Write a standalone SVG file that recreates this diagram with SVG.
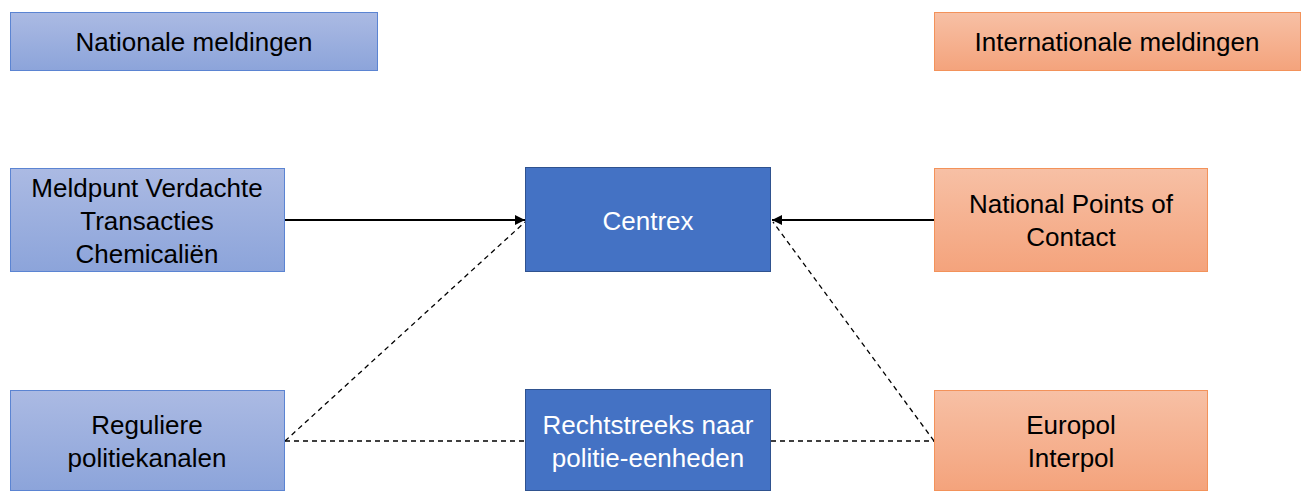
<svg xmlns="http://www.w3.org/2000/svg" width="1307" height="491" viewBox="0 0 1307 491">
<defs>
<linearGradient id="gBlue" x1="0" y1="0" x2="0" y2="1">
<stop offset="0" stop-color="#abbae3"/>
<stop offset="1" stop-color="#8ca4da"/>
</linearGradient>
<linearGradient id="gOrange" x1="0" y1="0" x2="0" y2="1">
<stop offset="0" stop-color="#f7c0a5"/>
<stop offset="1" stop-color="#f4a37c"/>
</linearGradient>
<marker id="arr" viewBox="0 0 10 10" refX="10" refY="5" markerWidth="10" markerHeight="10" markerUnits="userSpaceOnUse" orient="auto">
<path d="M0,0 L10,5 L0,10 z" fill="#000"/>
</marker>
<style>
.lb{fill:url(#gBlue);stroke:#5b84d2;stroke-width:1}
.or{fill:url(#gOrange);stroke:#f3925a;stroke-width:1}
.db{fill:#4472c4;stroke:#2f528f;stroke-width:1}
.t{font-family:"Liberation Sans",Arial,sans-serif;font-size:26px;text-anchor:middle;fill:#000}
.tw{fill:#fff}
.solid{stroke:#000;stroke-width:2;fill:none}
.dash{stroke:#000;stroke-width:1.3;fill:none;stroke-dasharray:5,4}
</style>
</defs>
<g id="connectors">
<line class="solid" x1="285" y1="220" x2="525" y2="220" marker-end="url(#arr)"/>
<line class="solid" x1="934" y1="220" x2="772" y2="220" marker-end="url(#arr)"/>
<line class="dash" x1="285" y1="441" x2="525" y2="222"/>
<line class="dash" x1="285" y1="441" x2="525" y2="441"/>
<line class="dash" x1="934" y1="441" x2="773" y2="222"/>
<line class="dash" x1="771" y1="441" x2="934" y2="441"/>
</g>
<g id="nationale">
<rect class="lb" x="10.5" y="12.5" width="367" height="58"/>
<text class="t" x="194" y="51">Nationale meldingen</text>
</g>
<g id="internationale">
<rect class="or" x="934.5" y="12.5" width="366" height="58"/>
<text class="t" x="1117" y="51">Internationale meldingen</text>
</g>
<g id="meldpunt">
<rect class="lb" x="10.5" y="168.5" width="274" height="103"/>
<text class="t" x="147" y="197">Meldpunt Verdachte</text>
<text class="t" x="147" y="230">Transacties</text>
<text class="t" x="147" y="263">Chemicaliën</text>
</g>
<g id="centrex">
<rect class="db" x="525.5" y="167.5" width="245" height="104"/>
<text class="t tw" x="648" y="230">Centrex</text>
</g>
<g id="npc">
<rect class="or" x="934.5" y="168.5" width="273" height="103"/>
<text class="t" x="1071" y="213">National Points of</text>
<text class="t" x="1071" y="246">Contact</text>
</g>
<g id="reguliere">
<rect class="lb" x="10.5" y="390.5" width="274" height="100"/>
<text class="t" x="147" y="434">Reguliere</text>
<text class="t" x="147" y="467">politiekanalen</text>
</g>
<g id="rechtstreeks">
<rect class="db" x="525.5" y="389.5" width="245" height="101"/>
<text class="t tw" x="648" y="434">Rechtstreeks naar</text>
<text class="t tw" x="648" y="467">politie-eenheden</text>
</g>
<g id="europol">
<rect class="or" x="934.5" y="390.5" width="273" height="100"/>
<text class="t" x="1071" y="434">Europol</text>
<text class="t" x="1071" y="467">Interpol</text>
</g>
</svg>
